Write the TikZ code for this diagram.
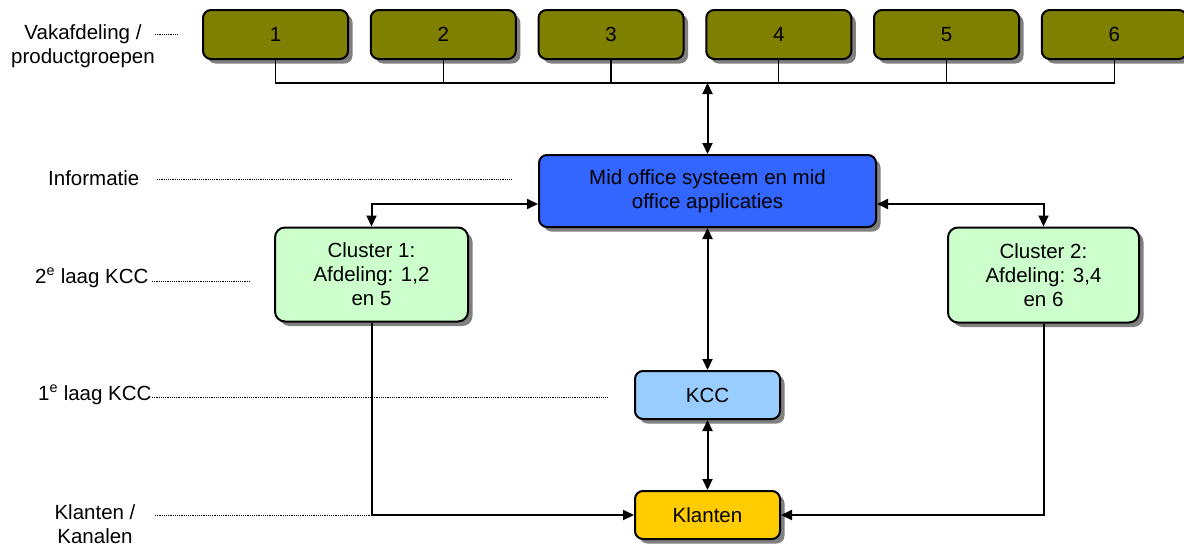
\documentclass[tikz,border=0pt]{standalone}
\usepackage{fontspec}
\setmainfont{Liberation Sans}
\usetikzlibrary{arrows.meta,shadows}
\definecolor{olivebox}{HTML}{808000}
\definecolor{midblue}{HTML}{3366FF}
\definecolor{clustergreen}{HTML}{CCFFCC}
\definecolor{kccblue}{HTML}{99CCFF}
\definecolor{klantgold}{HTML}{FFCC00}
\begin{document}
\begin{tikzpicture}[x=1pt,y=-1pt,
  txt/.style={font=\fontsize{20.5}{24}\selectfont},
  box/.style={txt,draw=black,line width=2pt,rounded corners=8pt,inner sep=0pt,align=center,
    drop shadow={shadow xshift=4.5pt,shadow yshift=-4.5pt,fill=black!50,opacity=1}},
  topbox/.style={box,fill=olivebox,minimum width=145pt,minimum height=49pt},
  lbl/.style={txt,inner sep=0pt,align=center},
  tip/.tip={Triangle[length=11pt,width=10pt]},
  arr/.style={line width=2pt,tip-tip},
  onearr/.style={line width=2pt,-tip},
  bus/.style={line width=1.4pt},
  dot/.style={line width=1pt,dash pattern=on 1.1pt off 1.1pt}]
\useasboundingbox (0,0) rectangle (1184,544);

% top boxes
\foreach \i in {1,...,6}{
  \node[topbox] (b\i) at ({275.5+167.75*(\i-1)},34.5) {\i};
}
\node[box,fill=midblue,minimum width=337pt,minimum height=72pt] (mid) at (707.5,191) {Mid office systeem en mid\\office applicaties};
\node[box,fill=clustergreen,rounded corners=10pt,minimum width=193pt,minimum height=94pt] (c1) at (371.5,274.5) {Cluster 1:\\Afdeling: 1,2\\en 5};
\node[box,fill=clustergreen,rounded corners=10pt,minimum width=191pt,minimum height=95pt] (c2) at (1043.5,275) {Cluster 2:\\Afdeling: 3,4\\en 6};
\node[box,fill=kccblue,minimum width=145pt,minimum height=48pt] (kcc) at (707.5,395) {KCC};
\node[box,fill=klantgold,minimum width=145pt,minimum height=48pt] (kl) at (707.5,515) {Klanten};

% bus
\coordinate (bus) at (707.5,83);
\draw[bus] (b1.south) -- (b1.south |- bus) -- (b6.south |- bus) -- (b6.south);
\foreach \i in {2,...,5}{
  \draw[bus] (b\i.south) -- (b\i.south |- bus);
}
\draw[arr] (bus) -- (mid.north);

% connectors
\draw[arr] (c1.north) |- ([yshift=-13pt]mid.west);
\draw[arr] (c2.north) |- ([yshift=-13pt]mid.east);
\draw[arr] (mid.south) -- (kcc.north);
\draw[arr] (kcc.south) -- (kl.north);
\draw[onearr] (c1.south) |- (kl.west);
\draw[onearr] (c2.south) |- (kl.east);

% left labels
\node[lbl] (lv) at (83,46.5) {Vakafdeling /\\productgroepen};
\node[lbl,anchor=base west] (li) at (48,185) {Informatie};
\node[lbl,anchor=base west] (l2) at (35,283) {2\textsuperscript{e} laag KCC};
\node[lbl,anchor=base west] (l1) at (38,400) {1\textsuperscript{e} laag KCC};
\node[lbl] (lk) at (95,524) {Klanten /\\Kanalen};

% dotted guide lines
\coordinate (dv1) at (155,34);  \coordinate (dv2) at (178,34);
\coordinate (di1) at (157,179); \coordinate (di2) at (512,179);
\coordinate (d21) at (152,281); \coordinate (d22) at (250,281);
\coordinate (d11) at (152,397); \coordinate (d12) at (608,397);
\coordinate (dk1) at (155,515);
\draw[dot] (dv1) -- (dv2);
\draw[dot] (di1) -- (di2);
\draw[dot] (d21) -- (d22);
\draw[dot] (d11) -- (d12);
\draw[dot] (dk1) -- (c1.south |- kl.west);
\end{tikzpicture}
\end{document}
